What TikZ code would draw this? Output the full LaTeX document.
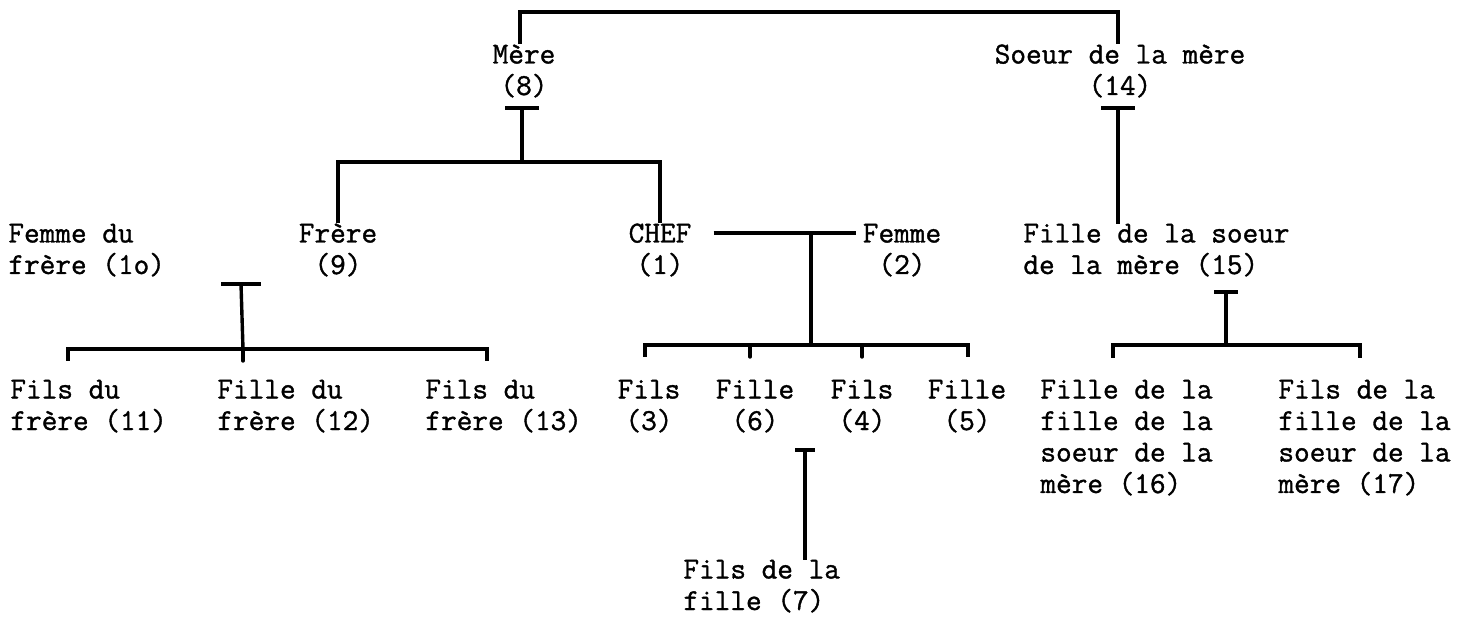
\documentclass[tikz,border=0pt]{standalone}
\usepackage{fontspec}
\setmonofont{Latin Modern Mono}[FakeBold=1.2]
\usetikzlibrary{positioning,calc}

\begin{document}
\begin{tikzpicture}[
  x=0.5pt,y=-0.5pt,
  font=\ttfamily\fontsize{15.2}{15.75}\selectfont,
  person/.style={inner sep=0pt,anchor=base,align=center},
  personl/.style={person,anchor=base west,align=left},
  bar/.style={line width=1.7pt},
  tick/.style={bar,line cap=round}
]
\useasboundingbox (0,0) rectangle (1474,620);
% generation of the mother (anchor = baseline of the last line)
\node[person] (mere) at (524,95) {Mère\\(8)};
\node[person] (soeur) at (1120,95) {Soeur de la mère\\(14)};
% generation of the chef
\node[personl] (femfr) at (8,274) {Femme du\\frère (1o)};
\node[person] (frere) at (338,274) {Frère\\(9)};
\node[person] (chef) at (660,274) {CHEF\\(1)};
\node[person] (femme) at (902,274) {Femme\\(2)};
\node[personl] (fsm) at (1023,274) {Fille de la soeur\\de la mère (15)};
% children
\node[personl] (f11) at (10,430) {Fils du\\frère (11)};
\node[personl] (f12) at (217,430) {Fille du\\frère (12)};
\node[personl] (f13) at (425,430) {Fils du\\frère (13)};
\node[person] (f3) at (649,430) {Fils\\(3)};
\node[person] (f6) at (755,430) {Fille\\(6)};
\node[person] (f4) at (862,430) {Fils\\(4)};
\node[person] (f5) at (967,430) {Fille\\(5)};
\node[personl] (f16) at (1040,493) {Fille de la\\fille de la\\soeur de la\\mère (16)};
\node[personl] (f17) at (1278,493) {Fils de la\\fille de la\\soeur de la\\mère (17)};
\node[personl] (f7) at (683,610) {Fils de la\\fille (7)};

% junction points
\coordinate (jtop) at (800,12);
\coordinate (t8) at (522,108);
\coordinate (j8) at (522,162);
\coordinate (t14) at (1118,108);
\coordinate (t9) at (241,284);
\coordinate (j9) at (243,349);
\coordinate (jm) at (811,233);
\coordinate (jc) at (811,345);
\coordinate (t15) at (1226,292);
\coordinate (j15) at (1226,345);
\coordinate (t6) at (805,450);

% sisters
\draw[bar] ([xshift=-2pt]mere.north) |- (jtop) -| ([xshift=-1pt]soeur.north);
% children of the mother
\draw[bar] ([xshift=-8.5pt]t8) -- ([xshift=8.5pt]t8);
\draw[bar] (t8) -- (j8);
\draw[bar] (frere.north) |- (j8) -| (chef.north);
% chef and his wife
\draw[bar] ([xshift=11pt]chef.base east |- jm) -- ([xshift=-3pt]femme.base west |- jm);
\draw[bar] (jm) -- (jc);
\draw[bar] (f3.north |- jc) ++(-4,12) |- (jc) -| ([xshift=0.5pt]f5.north |- 0,357);
\foreach \x in {750,862}
  \draw[tick] (\x,345) -- (\x,357);
% line of the brother
\draw[bar] ([xshift=-10pt]t9) -- ([xshift=10pt]t9);
\draw[bar] (t9) -- (j9);
\draw[bar] (68,361) |- (j9) -| (487,361);
\draw[tick] (j9) -- ++(0,12);
% line of the sister of the mother
\draw[bar] ([xshift=-8.5pt]t14) -- ([xshift=8.5pt]t14);
\draw[bar] (t14) -- (t14 |- fsm.north);
\draw[bar] ([xshift=-6pt]t15) -- ([xshift=6pt]t15);
\draw[bar] (t15) -- (j15);
\draw[bar] (1113,358) |- (j15) -| (1360,358);
% grandchild
\draw[bar] ([xshift=-5pt]t6) -- ([xshift=5pt]t6);
\draw[bar] (t6) -- (t6 |- f7.north);
\end{tikzpicture}
\end{document}
